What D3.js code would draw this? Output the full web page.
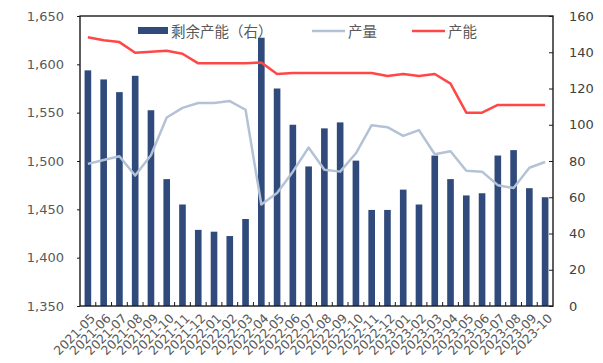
<!DOCTYPE html>
<html>
<head>
<meta charset="utf-8">
<script src="https://cdn.jsdelivr.net/npm/d3@7"></script>
<style>
  body { margin: 0; background: #fff; }
  svg { display: block; }
</style>
</head>
<body>
<div id="chart"></div>
<script>
// Months on the x axis
const months = ["2021-05","2021-06","2021-07","2021-08","2021-09","2021-10","2021-11","2021-12",
  "2022-01","2022-02","2022-03","2022-04","2022-05","2022-06","2022-07","2022-08","2022-09","2022-10",
  "2022-11","2022-12","2023-01","2023-02","2023-03","2023-04","2023-05","2023-06","2023-07","2023-08",
  "2023-09","2023-10"];

// 剩余产能 (right axis)
const surplus = [130, 125, 118, 127, 108, 70, 56, 42, 41, 38.6, 48, 148, 120, 100, 77, 98, 101.3, 80.2,
  53, 53, 64.2, 56, 83, 70, 61, 62.2, 83, 86, 65, 60];

// 产量 (left axis)
const output = [1497, 1501, 1505, 1485, 1506, 1545, 1555, 1560, 1560, 1562, 1553, 1455, 1467, 1489,
  1514, 1491, 1489, 1508, 1537, 1535, 1526, 1532, 1507, 1510, 1490, 1489, 1475, 1472, 1493, 1499];

// 产能 (left axis)
const capacity = [1628, 1625, 1623, 1612, 1613, 1614, 1611, 1601, 1601, 1601, 1601, 1602, 1590, 1591,
  1591, 1591, 1591, 1591, 1591, 1588, 1590, 1588, 1590, 1580, 1550, 1550, 1558, 1558, 1558, 1558];

const leftTicks = [1350, 1400, 1450, 1500, 1550, 1600, 1650];
const rightTicks = [0, 20, 40, 60, 80, 100, 120, 140, 160];
const legendLabels = ["剩余产能（右）", "产量", "产能"];

const W = 603, H = 363;
const margin = { top: 16, right: 50, bottom: 57, left: 80 };
const innerW = W - margin.left - margin.right;
const innerH = H - margin.top - margin.bottom;

const barColor = "#2f4a7b";
const outputColor = "#b4c2d6";
const capColor = "#ff4747";

const svg = d3.select("#chart").append("svg")
  .attr("width", W)
  .attr("height", H)
  .append("g")
  .attr("transform", `translate(${margin.left},${margin.top})`);

const x = d3.scaleBand().domain(months).range([0, innerW]).padding(0);
const yL = d3.scaleLinear().domain([1350, 1650]).range([innerH, 0]);
const yR = d3.scaleLinear().domain([0, 160]).range([innerH, 0]);
const cx = m => x(m) + x.bandwidth() / 2;

// Bars
const barW = x.bandwidth() * 0.42;
svg.selectAll(".bar")
  .data(months)
  .enter()
  .append("rect")
  .attr("class", "bar")
  .attr("x", m => cx(m) - barW / 2)
  .attr("y", (m, i) => yR(surplus[i]))
  .attr("width", barW)
  .attr("height", (m, i) => innerH - yR(surplus[i]))
  .style("fill", barColor);

// Lines
const line = d3.line()
  .x((d, i) => cx(months[i]))
  .y(d => yL(d));

svg.append("path")
  .attr("d", line(output))
  .style("fill", "none")
  .style("stroke", outputColor)
  .style("stroke-width", 2.5)
  .style("stroke-linejoin", "round");

svg.append("path")
  .attr("d", line(capacity))
  .style("fill", "none")
  .style("stroke", capColor)
  .style("stroke-width", 2.5)
  .style("stroke-linejoin", "round");

// Frame
svg.append("rect")
  .attr("x", 0).attr("y", 0)
  .attr("width", innerW).attr("height", innerH)
  .style("fill", "none")
  .style("stroke", "#1a1a1a")
  .style("stroke-width", 1.4);

// Left axis
const axL = svg.append("g")
  .call(d3.axisLeft(yL).tickValues(leftTicks).tickSize(3).tickPadding(13).tickFormat(d3.format(",")));
axL.select(".domain").remove();
axL.selectAll("line").style("stroke", "#1a1a1a");
axL.selectAll("text")
  .style("font-family", "DejaVu Sans, sans-serif")
  .style("font-size", "13px")
  .style("fill", "#595959");

// Right axis
const axR = svg.append("g")
  .attr("transform", `translate(${innerW},0)`)
  .call(d3.axisRight(yR).tickValues(rightTicks).tickSizeInner(-4).tickSizeOuter(0).tickPadding(16));
axR.select(".domain").remove();
axR.selectAll("line").style("stroke", "#1a1a1a");
axR.selectAll("text")
  .style("font-family", "DejaVu Sans, sans-serif")
  .style("font-size", "13px")
  .style("fill", "#404040");

// Bottom ticks between categories (inside)
svg.selectAll(".xtick")
  .data(months.slice(1))
  .enter()
  .append("line")
  .attr("x1", m => x(m)).attr("x2", m => x(m))
  .attr("y1", innerH).attr("y2", innerH - 4)
  .style("stroke", "#1a1a1a")
  .style("stroke-width", 1);

// X labels rotated
svg.selectAll(".xlabel")
  .data(months)
  .enter()
  .append("text")
  .attr("transform", m => `translate(${cx(m) + 5},${innerH + 10}) rotate(-45)`)
  .attr("text-anchor", "end")
  .attr("dy", "0.35em")
  .style("font-family", "DejaVu Sans, sans-serif")
  .style("font-size", "12.5px")
  .style("fill", "#595959")
  .text(m => m);

// Legend
const legend = svg.append("g").attr("transform", "translate(0,0)");
const lg = [
  { label: legendLabels[0], x: 58, type: "rect", color: barColor },
  { label: legendLabels[1], x: 232, type: "line", color: outputColor },
  { label: legendLabels[2], x: 332, type: "line", color: capColor }
];
lg.forEach(d => {
  if (d.type === "rect") {
    legend.append("rect")
      .attr("x", d.x).attr("y", 11)
      .attr("width", 30).attr("height", 7)
      .style("fill", d.color);
  } else {
    legend.append("line")
      .attr("x1", d.x).attr("x2", d.x + 33)
      .attr("y1", 15).attr("y2", 15)
      .style("stroke", d.color)
      .style("stroke-width", 2.5);
  }
  legend.append("text")
    .attr("x", d.x + (d.type === "rect" ? 33 : 36))
    .attr("y", 21)
    .style("font-family", "Noto Sans CJK SC, sans-serif")
    .style("font-size", "14.5px")
    .style("fill", "#595959")
    .text(d.label);
});
</script>
</body>
</html>
